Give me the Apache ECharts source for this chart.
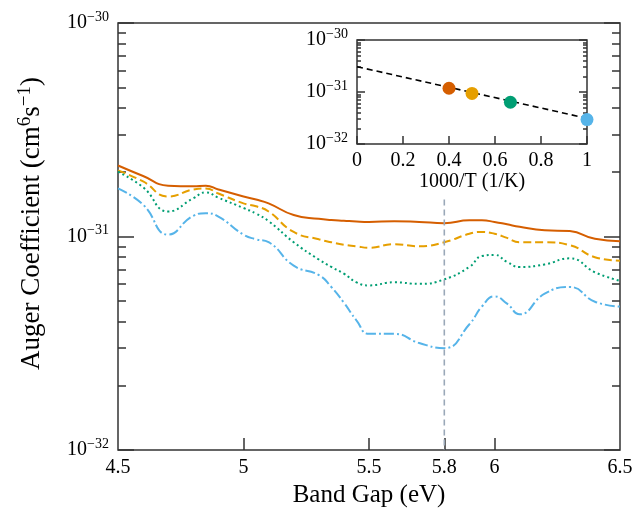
<!DOCTYPE html>
<html>
<head>
<meta charset="utf-8">
<script src="https://cdn.jsdelivr.net/npm/echarts@6/dist/echarts.min.js"></script>
<style>
  html, body { margin: 0; padding: 0; background: #fff; }
  #main { width: 636px; height: 513px; }
</style>
</head>
<body>
<div id="main"></div>
<script>
// band gap (eV)
const bandGap = [4.5, 4.6, 4.7, 4.8, 4.85, 4.9, 5.0, 5.05, 5.1, 5.2, 5.3, 5.35, 5.4, 5.45, 5.5,
  5.6, 5.7, 5.8, 5.9, 5.95, 6.0, 6.05, 6.1, 6.2, 6.3, 6.4, 6.5];

// Auger coefficient (cm^6 s^-1) per temperature
const augerOrange = [2.15e-31, 1.92e-31, 1.73e-31, 1.72e-31, 1.73e-31, 1.66e-31, 1.54e-31, 1.49e-31, 1.43e-31,
  1.26e-31, 1.21e-31, 1.195e-31, 1.185e-31, 1.175e-31, 1.17e-31, 1.18e-31, 1.17e-31, 1.155e-31, 1.19e-31,
  1.19e-31, 1.17e-31, 1.14e-31, 1.11e-31, 1.07e-31, 1.06e-31, 9.75e-32, 9.5e-32];
const augerYellow = [2.04e-31, 1.81e-31, 1.54e-31, 1.66e-31, 1.68e-31, 1.59e-31, 1.43e-31, 1.385e-31, 1.31e-31,
  1.05e-31, 9.7e-32, 9.4e-32, 9.15e-32, 9.0e-32, 8.85e-32, 9.2e-32, 9.0e-32, 9.4e-32, 1.03e-31,
  1.05e-31, 1.03e-31, 9.85e-32, 9.4e-32, 9.4e-32, 9.1e-32, 8.0e-32, 7.7e-32];
const augerGreen = [2.01e-31, 1.70e-31, 1.31e-31, 1.51e-31, 1.61e-31, 1.52e-31, 1.36e-31, 1.28e-31, 1.18e-31,
  9.4e-32, 7.8e-32, 7.2e-32, 6.7e-32, 6.1e-32, 5.9e-32, 6.1e-32, 6.0e-32, 6.3e-32, 7.2e-32,
  8.1e-32, 8.2e-32, 7.6e-32, 7.2e-32, 7.4e-32, 7.9e-32, 6.8e-32, 6.2e-32];
const augerBlue = [1.68e-31, 1.41e-31, 1.02e-31, 1.25e-31, 1.285e-31, 1.24e-31, 1.02e-31, 9.7e-32, 9.4e-32,
  7.3e-32, 6.6e-32, 5.8e-32, 4.9e-32, 4.05e-32, 3.5e-32, 3.5e-32, 3.17e-32, 3.0e-32, 3.88e-32,
  4.7e-32, 5.24e-32, 4.85e-32, 4.32e-32, 5.4e-32, 5.8e-32, 4.95e-32, 4.7e-32];

// marker line at 5.8 eV
const markerX = [5.8, 5.8];
const markerY = [1.49e-31, 1e-32];

// inset: coefficient at 5.8 eV vs 1000/T
const invT = [0.4, 0.5, 0.667, 1.0];
const augerAt58 = [1.18e-31, 9.4e-32, 6.35e-32, 2.95e-32];
const fitX = [0, 1];
const fitY = [3.07e-31, 3.12e-32];

// tick labels
const mainXLabels = [4.5, 5, 5.5, 5.8, 6, 6.5];
const mainXTicks = [5, 5.5, 5.8, 6];
const insetXLabels = [0, 0.2, 0.4, 0.6, 0.8, 1];
const decades = [1e-32, 1e-31, 1e-30];
const minorLogTicks = [2e-32, 3e-32, 4e-32, 5e-32, 6e-32, 7e-32, 8e-32, 9e-32,
  2e-31, 3e-31, 4e-31, 5e-31, 6e-31, 7e-31, 8e-31, 9e-31];

const colors = ['#D55E00', '#E69F00', '#009E73', '#56B4E9'];
const FONT = 'Liberation Serif';
const AXIS = '#333';

// tick axes live in log10 space, the data axes are real log axes
const decadeExp = decades.map(Math.log10);
const minorExp = minorLogTicks.map(Math.log10);

function powLabel(v) {
  return '{b|10}{s|\u2212' + Math.abs(Math.round(v)) + '}';
}
const powRich = {
  b: { fontFamily: FONT, fontSize: 20, color: '#000' },
  s: { fontFamily: FONT, fontSize: 14, color: '#000', padding: [0, 0, 12, 0] }
};

function dataAxis(gridIndex) {
  return {
    type: 'log', logBase: 10, min: 1e-32, max: 1e-30, gridIndex,
    axisLine: { show: false }, splitLine: { show: false },
    axisTick: { show: false }, axisLabel: { show: false }
  };
}

function tickAxis(gridIndex, position, len, ticks, labels) {
  return {
    type: 'value', min: -32, max: -30, gridIndex, position,
    axisLine: { show: false },
    splitLine: { show: false },
    axisTick: { show: true, inside: true, length: len, customValues: ticks,
      lineStyle: { color: AXIS, width: 1.5 } },
    axisLabel: labels ? { show: true, formatter: powLabel, rich: powRich, margin: 9, customValues: decadeExp }
      : { show: false }
  };
}

function mainLine(values, color, type, name) {
  return {
    name, type: 'line', xAxisIndex: 0, yAxisIndex: 0,
    data: bandGap.map((x, i) => [x, values[i]]),
    smooth: 0.5, showSymbol: false, symbol: 'none',
    lineStyle: { color, width: 2, type, cap: 'butt' },
    z: 3
  };
}

const chart = echarts.init(document.getElementById('main'));
chart.setOption({
  animation: false,
  backgroundColor: '#fff',
  grid: [
    { left: 118, top: 23, right: 16, bottom: 60, show: true, borderColor: AXIS, borderWidth: 1.5 },
    { left: 357, top: 40, width: 230, height: 104, show: true, borderColor: AXIS, borderWidth: 1.5,
      backgroundColor: '#fff' }
  ],
  xAxis: [
    {
      type: 'value', gridIndex: 0, min: 4.5, max: 6.5,
      name: 'Band Gap (eV)', nameLocation: 'middle', nameGap: 33,
      nameTextStyle: { fontFamily: FONT, fontSize: 25, color: '#000' },
      axisLine: { show: false }, splitLine: { show: false },
      axisTick: { show: true, inside: true, length: 12, customValues: mainXTicks,
        lineStyle: { color: AXIS, width: 1.5 } },
      axisLabel: { customValues: mainXLabels, fontFamily: FONT, fontSize: 20, color: '#000', margin: 8 }
    },
    {
      type: 'value', gridIndex: 1, min: 0, max: 1,
      name: '1000/T (1/K)', nameLocation: 'middle', nameGap: 27,
      nameTextStyle: { fontFamily: FONT, fontSize: 20, color: '#000' },
      axisLine: { show: false }, splitLine: { show: false },
      axisTick: { show: true, inside: true, length: 8, customValues: insetXLabels,
        lineStyle: { color: AXIS, width: 1.5 } },
      axisLabel: { customValues: insetXLabels, fontFamily: FONT, fontSize: 20, color: '#000', margin: 7 }
    }
  ],
  yAxis: [
    dataAxis(0),
    Object.assign(tickAxis(0, 'left', 16, decadeExp, true), {
      name: '{t|Auger Coefficient (cm}{s|6}{t|s}{s|\u22121}{t|)}',
      nameLocation: 'middle', nameRotate: 90, nameGap: 70,
      nameTextStyle: {
        padding: [0, 0, 0, 26],
        rich: {
          t: { fontFamily: FONT, fontSize: 27, color: '#000' },
          s: { fontFamily: FONT, fontSize: 19, color: '#000', padding: [0, 0, 13, 0] }
        }
      }
    }),
    tickAxis(0, 'left', 8, minorExp, false),
    tickAxis(0, 'right', 16, decadeExp, false),
    tickAxis(0, 'right', 8, minorExp, false),
    dataAxis(1),
    tickAxis(1, 'left', 8, decadeExp, true),
    tickAxis(1, 'left', 4, minorExp, false),
    tickAxis(1, 'right', 8, decadeExp, false),
    tickAxis(1, 'right', 4, minorExp, false)
  ],
  series: [
    mainLine(augerOrange, colors[0], 'solid', 'orange'),
    mainLine(augerYellow, colors[1], [8, 4], 'yellow'),
    mainLine(augerGreen, colors[2], [2, 3], 'green'),
    mainLine(augerBlue, colors[3], [10, 3, 2, 3], 'blue'),
    {
      type: 'line', xAxisIndex: 0, yAxisIndex: 0, symbol: 'none',
      data: markerX.map((x, i) => [x, markerY[i]]),
      lineStyle: { color: '#9aa8b8', width: 1.6, type: [6, 4] }, z: 4
    },
    {
      type: 'line', xAxisIndex: 1, yAxisIndex: 5, symbol: 'none',
      data: fitX.map((x, i) => [x, fitY[i]]),
      lineStyle: { color: '#000', width: 1.6, type: [6, 4] }, z: 5
    },
    {
      type: 'scatter', xAxisIndex: 1, yAxisIndex: 5, symbolSize: 13,
      data: invT.map((x, i) => ({ value: [x, augerAt58[i]], itemStyle: { color: colors[i], opacity: 1 } })),
      z: 6
    }
  ]
});
</script>
</body>
</html>
